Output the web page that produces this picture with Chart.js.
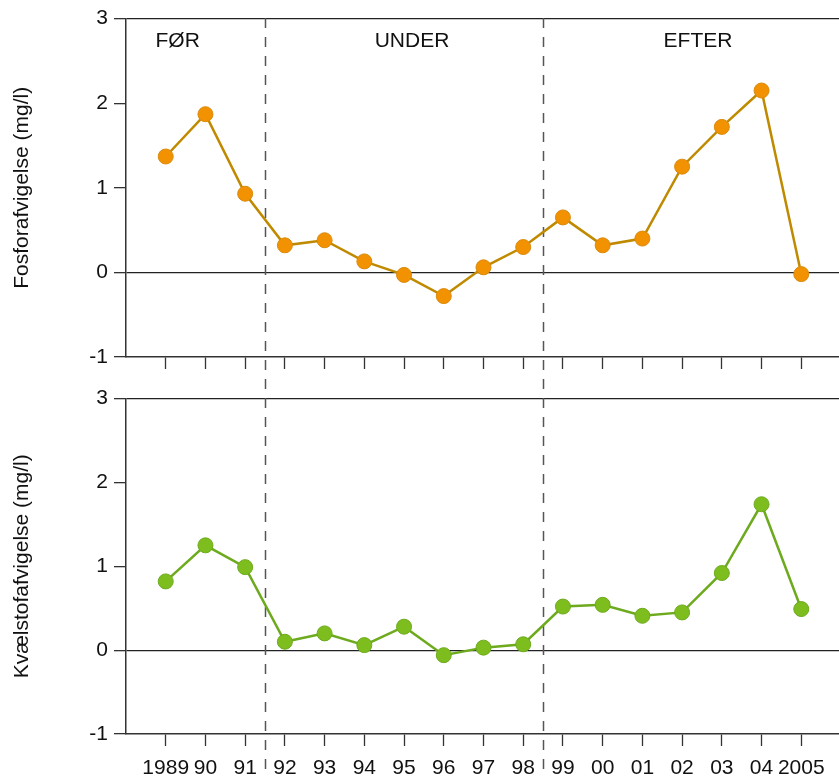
<!DOCTYPE html>
<html>
<head>
<meta charset="utf-8">
<script src="https://cdn.jsdelivr.net/npm/chart.js@4.4.1/dist/chart.umd.min.js"></script>
<style>
  html, body { margin: 0; padding: 0; background: #fff; }
  #wrap { position: relative; width: 839px; height: 778px; overflow: hidden; }
  canvas { position: absolute; left: 0; }
</style>
</head>
<body>
<div id="wrap">
  <canvas id="phos" width="839" height="380" style="top:0px"></canvas>
  <canvas id="nitr" width="839" height="398" style="top:380px"></canvas>
</div>
<script>
// Years on the x axis (short form between the first and last year)
const years = ['1989', '90', '91', '92', '93', '94', '95', '96', '97', '98',
               '99', '00', '01', '02', '03', '04', '2005'];

// Deviation in phosphorus concentration (mg/l)
const phosphorus = [1.37, 1.87, 0.93, 0.32, 0.38, 0.13, -0.03, -0.28, 0.06, 0.30,
                    0.65, 0.32, 0.40, 1.25, 1.72, 2.15, -0.02];

// Deviation in nitrogen concentration (mg/l)
const nitrogen = [0.82, 1.25, 0.99, 0.10, 0.20, 0.06, 0.28, -0.06, 0.03, 0.07,
                  0.52, 0.54, 0.41, 0.45, 0.92, 1.74, 0.49];

// Periods and the boundaries between them (in year-index units)
const periods = ['FØR', 'UNDER', 'EFTER'];
const periodBreaks = [2.5, 9.5];

const yTicks = [-1, 0, 1, 2, 3];

const FONT = "'Liberation Sans', Arial, Helvetica, sans-serif";
Chart.defaults.font.family = FONT;
Chart.defaults.color = '#111';

// Dashed period separators, drawn across the whole figure height
const separatorPlugin = {
  id: 'separators',
  beforeDatasetsDraw(chart, args, opts) {
    const ctx = chart.ctx;
    const xs = chart.scales.x;
    ctx.save();
    ctx.strokeStyle = '#555';
    ctx.lineWidth = 1.5;
    ctx.setLineDash([10, 9]);
    const y0 = opts.startY;
    periodBreaks.forEach(b => {
      const px = Math.round(xs.getPixelForValue(b)) + 0.5;
      ctx.beginPath();
      ctx.moveTo(px, y0);
      ctx.lineTo(px, chart.height);
      ctx.stroke();
    });
    ctx.restore();
  }
};

// Period captions along the top of the upper panel
const periodLabelPlugin = {
  id: 'periodLabels',
  afterDatasetsDraw(chart, args, opts) {
    if (!opts.show) return;
    const ctx = chart.ctx;
    const xs = chart.scales.x;
    ctx.save();
    ctx.font = '21px ' + FONT;
    ctx.fillStyle = '#111';
    ctx.textAlign = 'center';
    ctx.textBaseline = 'middle';
    periods.forEach((p, i) => {
      ctx.fillText(p, xs.getPixelForValue(opts.positions[i]), opts.y);
    });
    ctx.restore();
  }
};

function makeChart(id, values, cfg) {
  const points = values.map((v, i) => ({ x: i, y: v }));
  return new Chart(document.getElementById(id), {
    type: 'line',
    data: {
      datasets: [{
        data: points,
        borderColor: cfg.line,
        borderWidth: 2.5,
        pointRadius: 7.5,
        pointHoverRadius: 7.5,
        pointBackgroundColor: cfg.fill,
        pointBorderColor: cfg.edge,
        pointBorderWidth: 1,
        tension: 0,
        clip: false
      }]
    },
    options: {
      responsive: false,
      devicePixelRatio: 1,
      animation: false,
      events: [],
      layout: { autoPadding: false, padding: { top: cfg.padTop, left: 0, right: 0, bottom: 0 } },
      plugins: {
        legend: { display: false },
        tooltip: { enabled: false },
        separators: { startY: 18 - cfg.offsetTop },
        periodLabels: { show: cfg.periodLabels, positions: [0.3, 6.2, 13.4], y: 41 }
      },
      scales: {
        x: {
          type: 'linear',
          min: -1,
          max: 16.95,
          afterBuildTicks: s => { s.ticks = years.map((_, i) => ({ value: i })); },
          afterFit: s => { s.height = cfg.xHeight; },
          ticks: {
            display: cfg.xLabels,
            autoSkip: false,
            maxRotation: 0,
            padding: 10,
            font: { size: 21 },
            color: '#111',
            callback: v => years[v]
          },
          grid: {
            drawOnChartArea: false,
            drawTicks: true,
            tickLength: 12,
            tickColor: '#333',
            tickWidth: 1.3
          },
          border: { display: true, color: '#333', width: 1.5 }
        },
        y: {
          min: -1,
          max: 3,
          afterBuildTicks: s => { s.ticks = yTicks.map(v => ({ value: v })); },
          afterFit: s => { s.width = 126; },
          ticks: {
            padding: 6,
            font: { size: 21 },
            color: '#111',
            callback: v => String(v)
          },
          grid: {
            drawOnChartArea: true,
            color: c => (c.tick && (c.tick.value === 0 || c.tick.value === 3)) ? '#222' : 'rgba(0,0,0,0)',
            lineWidth: 1.3,
            drawTicks: true,
            tickLength: 12,
            tickColor: '#333',
            tickWidth: 1.3
          },
          border: { display: true, color: '#333', width: 1.5 },
          title: {
            display: true,
            text: cfg.title,
            font: { size: 21 },
            color: '#111',
            padding: { top: 9.5, bottom: 0 }
          }
        }
      }
    },
    plugins: [separatorPlugin, periodLabelPlugin]
  });
}

makeChart('phos', phosphorus, {
  title: 'Fosforafvigelse (mg/l)',
  line: '#C08A00', fill: '#F39200', edge: '#D98A0E',
  padTop: 18, xHeight: 23, xLabels: false, periodLabels: true, offsetTop: 0
});

makeChart('nitr', nitrogen, {
  title: 'Kvælstofafvigelse (mg/l)',
  line: '#6DAA1E', fill: '#7DBE1E', edge: '#6DAA1E',
  padTop: 15, xHeight: 44, xLabels: true, periodLabels: false, offsetTop: 380
});
</script>
</body>
</html>
